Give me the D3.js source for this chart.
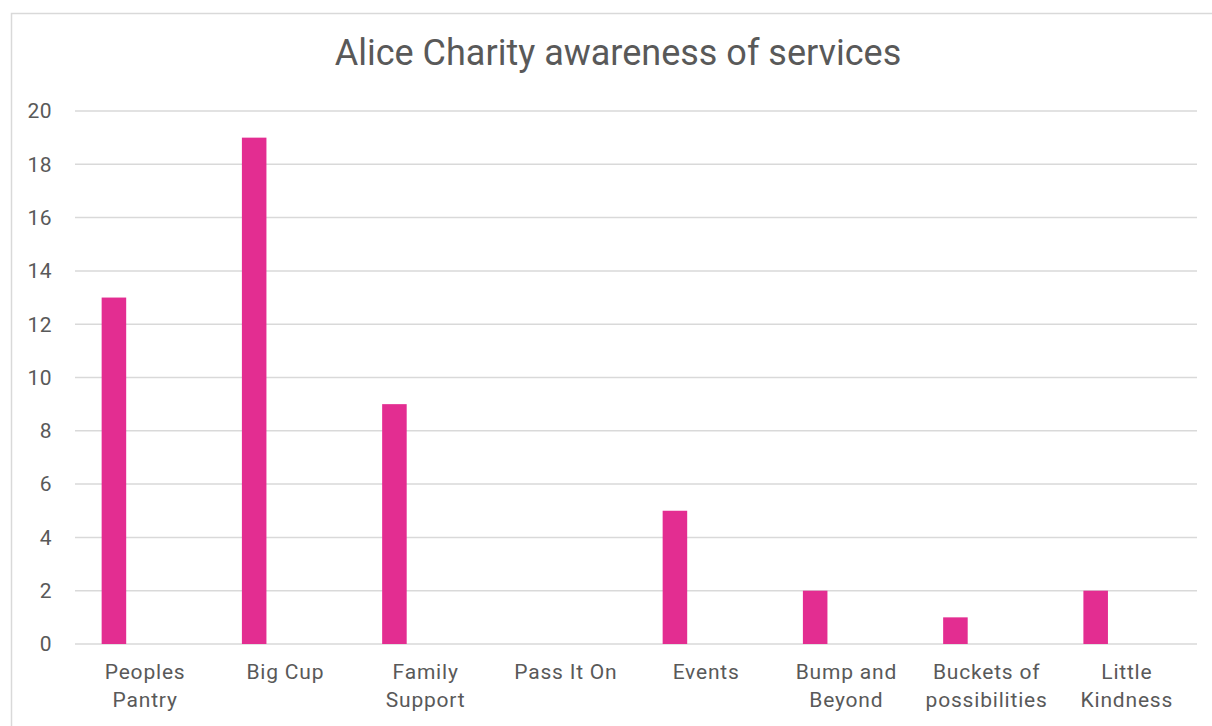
<!DOCTYPE html>
<html>
<head>
<meta charset="utf-8">
<script src="https://cdn.jsdelivr.net/npm/d3@7"></script>
<style>
  html, body { margin: 0; padding: 0; background: #fff; }
  svg { display: block; }
  text { font-family: Roboto, "Open Sans", sans-serif; fill: #595959; }
</style>
</head>
<body>
<svg id="chart" width="1212" height="726"></svg>
<script>
// Services and how many respondents were aware of each
const categories = [
  ["Peoples", "Pantry"],
  ["Big Cup"],
  ["Family", "Support"],
  ["Pass It On"],
  ["Events"],
  ["Bump and", "Beyond"],
  ["Buckets of", "possibilities"],
  ["Little", "Kindness"]
];
const awareness = [13, 19, 9, 0, 5, 2, 1, 2];
const yTicks = [0, 2, 4, 6, 8, 10, 12, 14, 16, 18, 20];
const title = "Alice Charity awareness of services";

const W = 1212, H = 726;
const margin = { top: 111, right: 15, bottom: 82, left: 75 };
const svg = d3.select("#chart");

// chart frame (runs off the right and bottom of the page)
svg.append("rect")
  .attr("x", 11.5).attr("y", 13.5)
  .attr("width", W + 10).attr("height", H + 10)
  .attr("fill", "#fff")
  .attr("stroke", "#d9d9d9").attr("stroke-width", 1.5);

const keys = categories.map(c => c.join(" "));
const x = d3.scaleBand()
  .domain(keys)
  .range([margin.left, W - margin.right])
  .paddingInner(0).paddingOuter(0);

const y = d3.scaleLinear()
  .domain([0, 20])
  .range([H - margin.bottom, margin.top]);

// title
svg.append("text")
  .attr("x", 618).attr("y", 65)
  .attr("text-anchor", "middle")
  .style("font-size", "36px")
  .text(title);

// horizontal gridlines
svg.append("g")
  .selectAll("line")
  .data(yTicks)
  .join("line")
  .attr("x1", margin.left).attr("x2", W - margin.right)
  .attr("y1", d => y(d)).attr("y2", d => y(d))
  .attr("stroke", "#d9d9d9").attr("stroke-width", 1.5);

// y tick labels
svg.append("g")
  .selectAll("text")
  .data(yTicks)
  .join("text")
  .attr("x", 52).attr("y", d => y(d))
  .attr("dy", "0.35em")
  .attr("text-anchor", "end")
  .style("font-size", "21px")
  .style("letter-spacing", "0.5px")
  .text(d => d);

// bars sit in the left part of each band, as in a clustered layout
const barOffset = x.bandwidth() * 0.19;
const barWidth = x.bandwidth() * 0.175;
svg.append("g")
  .selectAll("rect")
  .data(awareness.map((v, i) => ({ key: keys[i], v })))
  .join("rect")
  .attr("x", d => x(d.key) + barOffset)
  .attr("width", barWidth)
  .attr("y", d => y(d.v))
  .attr("height", d => y(0) - y(d.v))
  .attr("fill", "#e32d91");

// category labels, wrapped onto two lines
const lab = svg.append("g")
  .selectAll("text")
  .data(categories)
  .join("text")
  .attr("text-anchor", "middle")
  .style("font-size", "21px")
  .style("letter-spacing", "0.8px");
lab.selectAll("tspan")
  .data((d, i) => d.map(line => ({ line, key: keys[i] })))
  .join("tspan")
  .attr("x", d => x(d.key) + x.bandwidth() / 2)
  .attr("y", (d, j) => 679 + j * 28)
  .text(d => d.line);
</script>
</body>
</html>
